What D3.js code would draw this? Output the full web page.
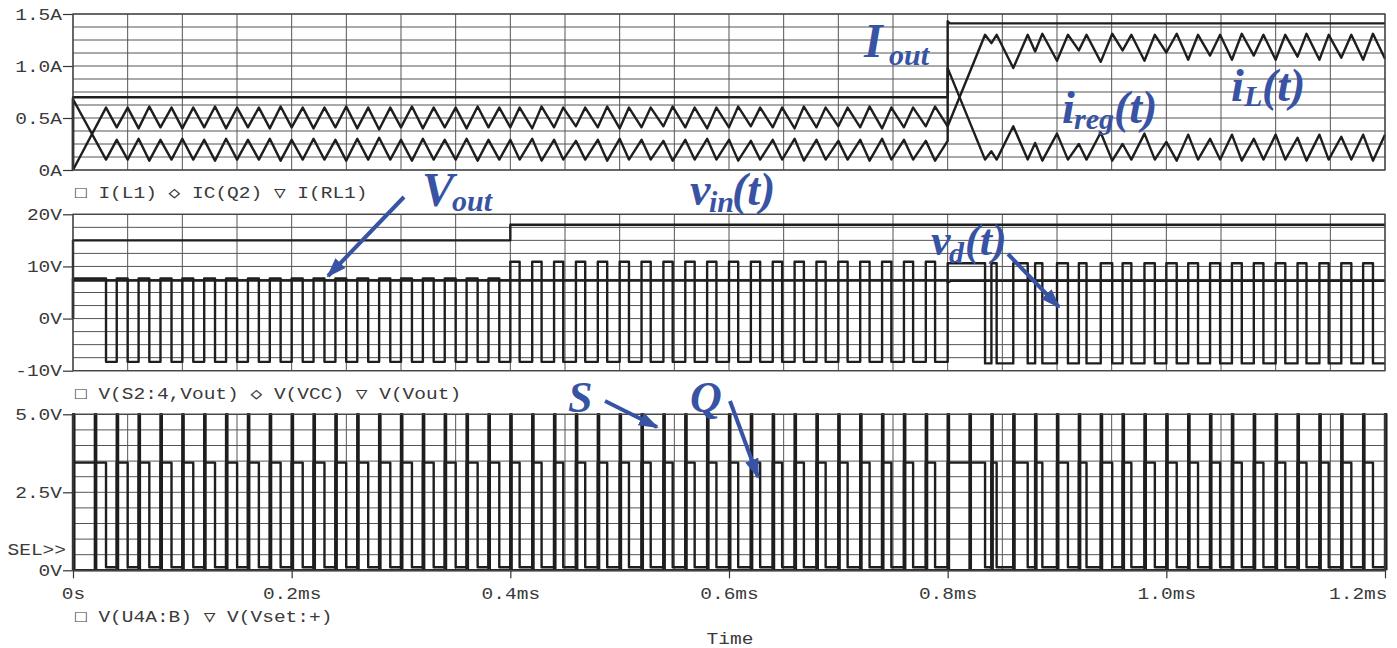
<!DOCTYPE html>
<html>
<head>
<meta charset="utf-8">
<script src="https://cdn.jsdelivr.net/npm/d3@7"></script>
<style>
body { margin: 0; background: #fff; }
.mono { font-family: 'Liberation Mono', 'DejaVu Sans Mono', monospace; font-size: 16.5px; fill: #3a3a3a; }
.note { font-family: 'Liberation Serif', 'Times New Roman', serif; font-weight: bold; font-style: italic; fill: #3853a4; }
.trace { fill: none; stroke: #1e1e1e; stroke-width: 2.4; stroke-linejoin: round; }
.grid { stroke: #555; stroke-width: 1; }
</style>
</head>
<body>
<div id="chart"></div>
<script>
// axis ticks / labels
var timeTicks = [0, 0.2, 0.4, 0.6, 0.8, 1.0, 1.2];
var timeTickLabels = ['0s', '0.2ms', '0.4ms', '0.6ms', '0.8ms', '1.0ms', '1.2ms'];
var currentTicks = [0, 0.5, 1.0, 1.5];
var currentTickLabels = ['0A', '0.5A', '1.0A', '1.5A'];
var voltTicks = [-10, 0, 10, 20];
var voltTickLabels = ['-10V', '0V', '10V', '20V'];
var logicTicks = [0, 2.5, 5.0];
var logicTickLabels = ['0V', '2.5V', '5.0V'];
var legendCurrent = '\u25A1 I(L1) \u25C7 IC(Q2) \u25BD I(RL1)';
var legendVolt = '\u25A1 V(S2:4,Vout) \u25C7 V(VCC) \u25BD V(Vout)';
var legendLogic = '\u25A1 V(U4A:B) \u25BD V(Vset:+)';

// clock (S) pulses, ms
var clockTimes = [0,0.02,0.04,0.06,0.08,0.10,0.12,0.14,0.16,0.18,0.20,0.22,0.24,0.26,0.28,0.30,0.32,0.34,0.36,0.38,
	0.40,0.42,0.44,0.46,0.48,0.50,0.52,0.54,0.56,0.58,0.60,0.62,0.64,0.66,0.68,0.70,0.72,0.74,0.76,0.78,
	0.80,0.82,0.84,0.86,0.88,0.90,0.92,0.94,0.96,0.98,1.00,1.02,1.04,1.06,1.08,1.10,1.12,1.14,1.16,1.18,1.20];

// switch (Q) on / off instants, ms
var qOn = [0,
	0.04,0.06,0.08,0.10,0.12,0.14,0.16,0.18,0.20,0.22,0.24,0.26,0.28,0.30,0.32,0.34,0.36,0.38,
	0.40,0.42,0.44,0.46,0.48,0.50,0.52,0.54,0.56,0.58,0.60,0.62,0.64,0.66,0.68,0.70,0.72,0.74,0.76,0.78,
	0.80,
	0.84,0.86,0.88,0.90,0.92,0.94,0.96,0.98,1.00,1.02,1.04,1.06,1.08,1.10,1.12,1.14,1.16,1.18];
var qOff = [0.0302,
	0.0500,0.0698,0.0901,0.1100,0.1299,0.1501,0.1700,0.1899,0.2101,0.2300,0.2499,0.2700,0.2902,0.3100,0.3299,0.3500,0.3701,0.3899,
	0.4085,0.4286,0.4484,0.4685,0.4886,0.5085,0.5284,0.5485,0.5686,0.5885,0.6084,0.6285,0.6486,0.6685,0.6884,0.7085,0.7286,0.7485,0.7684,0.7885,
	0.8342,
	0.8448,0.8732,0.8866,0.9100,0.9270,0.9505,0.9680,0.9895,1.0095,1.0290,1.0492,1.0690,1.0888,1.1088,1.1282,1.1485,1.1692,1.1890];

// inductor current at switch-on (valley) and switch-off (peak), A
var iLOn = [0,
	0.41,0.40,0.41,0.40,0.41,0.40,0.41,0.40,0.41,0.40,0.41,0.40,0.39,0.41,0.40,0.41,0.40,0.41,
	0.41,0.40,0.41,0.42,0.41,0.40,0.41,0.42,0.41,0.40,0.41,0.42,0.41,0.40,0.41,0.42,0.41,0.40,0.41,0.42,
	0.42,
	1.22,0.98,1.14,1.05,1.15,1.04,1.15,1.05,1.13,1.06,1.10,1.06,1.10,1.06,1.09,1.06,1.08,1.06];
var iLOff = [0.60,
	0.60,0.61,0.60,0.60,0.61,0.60,0.60,0.61,0.60,0.60,0.61,0.60,0.60,0.61,0.60,0.60,0.61,0.60,
	0.60,0.61,0.60,0.60,0.61,0.60,0.60,0.61,0.60,0.60,0.61,0.60,0.60,0.61,0.60,0.60,0.61,0.60,0.60,0.61,
	1.30,
	1.30,1.30,1.31,1.30,1.30,1.31,1.30,1.30,1.31,1.30,1.30,1.31,1.30,1.30,1.31,1.30,1.30,1.31];
var iLEnd = 1.07;

// regulator current at the same instants, A
var iRegOn = [0.68,
	0.29,0.30,0.29,0.30,0.29,0.30,0.29,0.30,0.29,0.30,0.29,0.30,0.31,0.29,0.30,0.29,0.30,0.29,
	0.29,0.30,0.29,0.28,0.29,0.30,0.29,0.28,0.29,0.30,0.29,0.28,0.29,0.30,0.29,0.28,0.29,0.30,0.29,0.28,
	0.98,
	0.18,0.42,0.26,0.35,0.25,0.36,0.25,0.35,0.27,0.34,0.30,0.34,0.30,0.34,0.31,0.34,0.32,0.34];
var iRegOff = [0.10,
	0.10,0.09,0.10,0.10,0.09,0.10,0.10,0.09,0.10,0.10,0.09,0.10,0.10,0.09,0.10,0.10,0.09,0.10,
	0.10,0.09,0.10,0.10,0.09,0.10,0.10,0.09,0.10,0.10,0.09,0.10,0.10,0.09,0.10,0.10,0.09,0.10,0.10,0.09,
	0.10,
	0.10,0.10,0.09,0.10,0.10,0.09,0.10,0.10,0.09,0.10,0.10,0.09,0.10,0.10,0.09,0.10,0.10,0.09];
var iRegJumpTimes = [0, 0.80];
var iRegJumpFrom = [0, 0.28];
var iRegEnd = 0.34;

// load current I(RL1)
var ioutTimes = [0, 0, 0.80, 0.80, 0.802, 1.20];
var ioutValues = [0, 0.70, 0.70, 1.43, 1.41, 1.41];

// supply and output voltages
var vccTimes = [0, 0, 0.40, 0.40, 1.20];
var vccValues = [0, 15, 15, 18, 18];
var voutTimes = [0, 0.80, 0.80, 0.803, 1.20];
var voutValues = [7.3, 7.3, 6.9, 7.25, 7.25];

// diode node voltage levels V(S2:4,Vout)
var vdLevelTimes = [0, 0.40, 0.80];
var vdHighLevels = [7.7, 10.9, 10.6];
var vdLowLevels = [-8.3, -8.3, -8.6];

var qHighLevel = 3.45, qLowLevel = 0.1, sLevel = 5.0, sWidth = 0.0012;

var w = 1397, h = 648, cw = 11.7;

var svg = d3.select('#chart').append('svg')
	.attr('width', w)
	.attr('height', h)
	.style('background', '#fff');

var x = d3.scaleLinear().domain([0, 1.2]).range([73, 1385]);

var panels = [
	{ y: d3.scaleLinear().domain([0, 1.5]).range([170, 14]), step: 0.125, ticks: currentTicks, labels: currentTickLabels, legend: legendCurrent, legendY: 198 },
	{ y: d3.scaleLinear().domain([-10, 20]).range([370.7, 214.3]), step: 2.5, ticks: voltTicks, labels: voltTickLabels, legend: legendVolt, legendY: 399 },
	{ y: d3.scaleLinear().domain([0, 5]).range([570.3, 414.3]), step: 0.5, ticks: logicTicks, labels: logicTickLabels, legend: legendLogic, legendY: 622 }
];

function stretch(sel) {
	sel.each(function(){
		d3.select(this)
			.attr('textLength', this.textContent.length * cw)
			.attr('lengthAdjust', 'spacingAndGlyphs');
	});
}

var defs = svg.append('defs');

panels.forEach(function(p, pi){
	var d = p.y.domain();
	var g = svg.append('g').attr('class', 'panel');

	defs.append('clipPath').attr('id', 'clip' + pi)
		.append('rect')
		.attr('x', x(0) - 3).attr('y', p.y(d[1]) - 3)
		.attr('width', x(1.2) - x(0) + 6).attr('height', p.y(d[0]) - p.y(d[1]) + 6);

	//GRID
	g.selectAll('.hgrid')
		.data(d3.range(d[0], d[1] + p.step / 2, p.step))
		.enter().append('line')
			.attr('class', 'grid')
			.attr('x1', x(0)).attr('x2', x(1.2))
			.attr('y1', function(v){ return p.y(v); })
			.attr('y2', function(v){ return p.y(v); });
	g.selectAll('.vgrid')
		.data(d3.range(0, 1.2 + 0.025, 0.05))
		.enter().append('line')
			.attr('class', 'grid')
			.attr('x1', function(t){ return x(t); }).attr('x2', function(t){ return x(t); })
			.attr('y1', p.y(d[0])).attr('y2', p.y(d[1]));

	//AXIS
	var ax = svg.append('g')
		.attr('transform', 'translate(' + x(0) + ',0)')
		.call(d3.axisLeft(p.y)
			.tickValues(p.ticks)
			.tickFormat(function(v, i){ return p.labels[i]; })
			.tickSize(10).tickPadding(1).tickSizeOuter(0));
	ax.select('.domain').remove();
	ax.selectAll('line').attr('stroke', '#333').attr('stroke-width', 1.2);
	ax.selectAll('text').attr('class', 'mono').call(stretch);

	p.traces = svg.append('g').attr('clip-path', 'url(#clip' + pi + ')');
	p.frame = { x: x(0), y: p.y(d[1]), w: x(1.2) - x(0), h: p.y(d[0]) - p.y(d[1]) };

	svg.append('text')
		.attr('class', 'mono')
		.attr('x', 75).attr('y', p.legendY)
		.text(p.legend)
		.call(stretch);
});

// time axis under the bottom panel
var tAx = svg.append('g')
	.attr('transform', 'translate(0,' + panels[2].y(0) + ')')
	.call(d3.axisBottom(x)
		.tickValues(timeTicks)
		.tickFormat(function(v, i){ return timeTickLabels[i]; })
		.tickSize(8).tickPadding(9).tickSizeOuter(0));
tAx.select('.domain').remove();
tAx.selectAll('line').attr('stroke', '#333').attr('stroke-width', 1.2);
tAx.selectAll('text').attr('class', 'mono').call(stretch);
tAx.selectAll('text').filter(function(v){ return v === 1.2; }).attr('text-anchor', 'end').attr('dx', 2);

svg.append('text').attr('class', 'mono')
	.attr('x', 730).attr('y', 644).attr('text-anchor', 'middle')
	.text('Time').call(stretch);
svg.append('text').attr('class', 'mono')
	.attr('x', 66).attr('y', 555).attr('text-anchor', 'end')
	.text('SEL>>').call(stretch);

//TRACES
function pairs(ts, vs) { return ts.map(function(t, i){ return [t, vs[i]]; }); }
function levelAt(t, times, values) { return values[d3.bisectRight(times, t) - 1]; }
function lineFor(p, curve) {
	return d3.line()
		.x(function(d){ return x(d[0]); })
		.y(function(d){ return p.y(d[1]); })
		.curve(curve || d3.curveLinear);
}
function drawTrace(p, data, curve) {
	p.traces.append('path')
		.datum(data)
		.attr('class', 'trace')
		.attr('d', lineFor(p, curve));
}

var iL = [], iReg = [], vd = [[0, 0]], q = [], s = [[0, 0]];
qOn.forEach(function(t, i){
	iL.push([t, iLOn[i]]);
	iL.push([qOff[i], iLOff[i]]);
	var j = iRegJumpTimes.indexOf(t);
	if (j >= 0) { iReg.push([t, iRegJumpFrom[j]]); }
	iReg.push([t, iRegOn[i]]);
	iReg.push([qOff[i], iRegOff[i]]);
	vd.push([t, levelAt(t, vdLevelTimes, vdHighLevels)]);
	vd.push([qOff[i], levelAt(qOff[i], vdLevelTimes, vdLowLevels)]);
	q.push([t, qHighLevel]);
	q.push([qOff[i], qLowLevel]);
});
iL.push([1.2, iLEnd]);
iReg.push([1.2, iRegEnd]);
vd.push([1.2, vdLowLevels[vdLowLevels.length - 1]]);
q.push([1.2, qLowLevel]);
clockTimes.forEach(function(t){
	s.push([t, sLevel]);
	s.push([t + sWidth, 0]);
});

drawTrace(panels[0], pairs(ioutTimes, ioutValues));
drawTrace(panels[0], iReg);
drawTrace(panels[0], iL);

drawTrace(panels[1], pairs(vccTimes, vccValues));
drawTrace(panels[1], vd, d3.curveStepAfter);
drawTrace(panels[1], pairs(voutTimes, voutValues));

drawTrace(panels[2], q, d3.curveStepAfter);
drawTrace(panels[2], s, d3.curveStepAfter);

panels.forEach(function(p){
	svg.append('rect')
		.attr('x', p.frame.x).attr('y', p.frame.y)
		.attr('width', p.frame.w).attr('height', p.frame.h)
		.attr('fill', 'none').attr('stroke', '#444').attr('stroke-width', 1.3);
});

//ANNOTATIONS
function note(parts) {
	var t = svg.append('text').attr('class', 'note');
	parts.forEach(function(pt){
		t.append('tspan')
			.attr('x', pt[1]).attr('y', pt[2])
			.style('font-size', pt[3] + 'px')
			.text(pt[0]);
	});
}
note([['I', 864, 57, 48], ['out', 889, 65, 30]]);
note([['i', 1062, 123, 46], ['reg', 1074, 129, 30], ['(t)', 1114, 123, 46]]);
note([['i', 1231, 101, 46], ['L', 1244, 106, 30], ['(t)', 1262, 101, 46]]);
note([['V', 422, 206, 48], ['out', 452, 211, 30]]);
note([['v', 690, 205, 46], ['in', 709, 212, 30], ['(t)', 732, 205, 46]]);
note([['v', 931, 255, 44], ['d', 949, 263, 30], ['(t)', 965, 255, 44]]);
note([['S', 568, 412, 44]]);
note([['Q', 690, 412, 44]]);

defs.append('marker')
	.attr('id', 'arrowhead')
	.attr('viewBox', '0 0 20 14')
	.attr('refX', 18).attr('refY', 7)
	.attr('markerWidth', 20).attr('markerHeight', 14)
	.attr('markerUnits', 'userSpaceOnUse')
	.attr('orient', 'auto')
	.append('path')
		.attr('d', 'M0,0 L20,7 L0,14 z')
		.attr('fill', '#3853a4');

var arrows = [[404, 197, 328, 276], [1008, 254, 1059, 307], [605, 401, 657, 427], [730, 401, 758, 477]];
svg.selectAll('.arrow')
	.data(arrows)
	.enter().append('line')
		.attr('class', 'arrow')
		.attr('x1', function(a){ return a[0]; }).attr('y1', function(a){ return a[1]; })
		.attr('x2', function(a){ return a[2]; }).attr('y2', function(a){ return a[3]; })
		.attr('stroke', '#3853a4')
		.attr('stroke-width', 4)
		.attr('marker-end', 'url(#arrowhead)');
</script>
</body>
</html>
